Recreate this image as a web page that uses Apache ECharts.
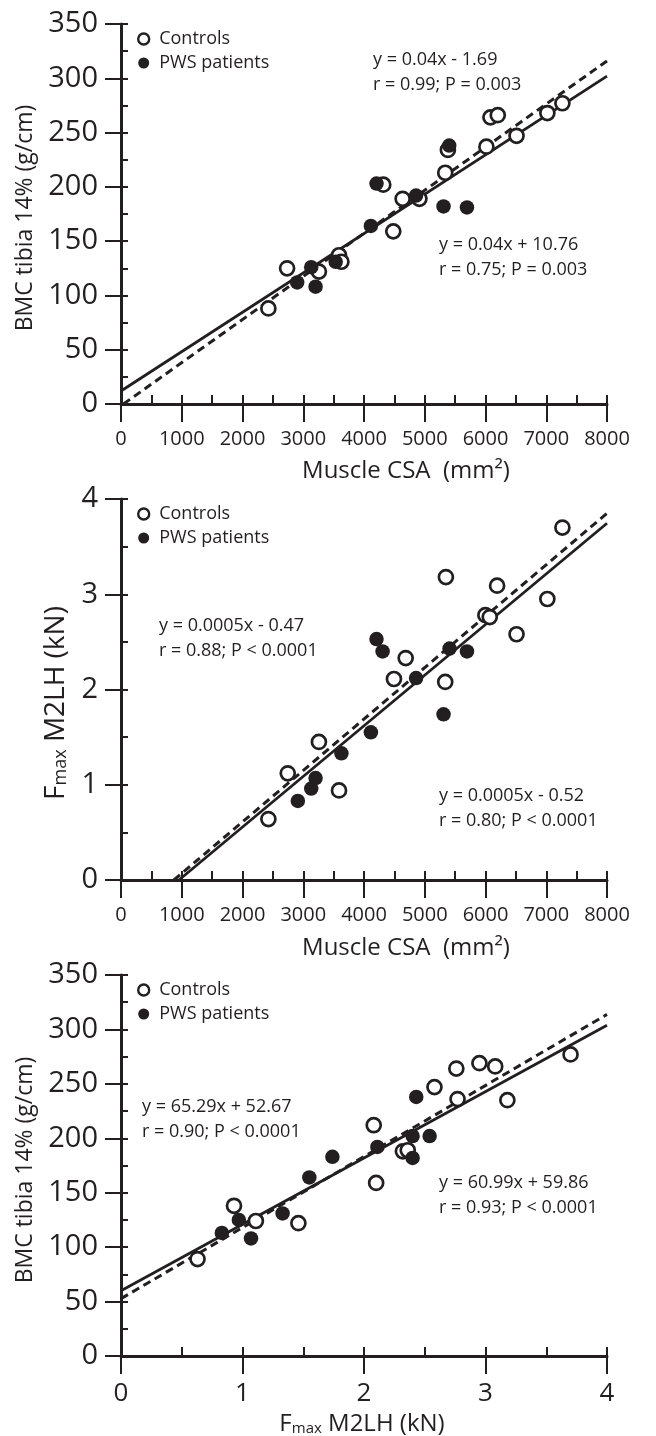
<!DOCTYPE html>
<html><head><meta charset="utf-8">
<script src="https://cdn.jsdelivr.net/npm/echarts@6/dist/echarts.min.js"></script>
<style>html,body{margin:0;padding:0;background:#fff}#c{width:656px;height:1436px}</style>
</head><body><div id="c"></div>
<script>
// ---------- data ----------
// Panel 1: Muscle CSA (mm2) vs BMC tibia 14% (g/cm)
const p1Controls = [[2426,88],[2734,125],[3258,122],[3589,137],[3628,131],[4317,202],[4482,159],[4636,189],[4912,189],[5337,213],[5381,234],[6015,237],[6081,264],[6202,266],[6511,247],[7018,268],[7266,277]];
const p1Patients = [[2900,112],[3131,126],[3203,108],[3534,131],[4113,164],[4206,203],[4857,192],[5309,182],[5695,181],[5403,238]];
const p1SolidFit = [[0,12],[8000,302]];
const p1DashedFit = [[40,0],[8000,316]];
// Panel 2: Muscle CSA (mm2) vs Fmax M2LH (kN)
const p2Controls = [[2426,0.64],[2745,1.12],[3258,1.45],[3589,0.94],[4493,2.11],[4686,2.33],[5348,3.18],[5337,2.08],[5998,2.78],[6070,2.76],[6191,3.09],[6511,2.58],[7018,2.95],[7266,3.70]];
const p2Patients = [[2911,0.83],[3131,0.96],[3203,1.07],[3628,1.33],[4113,1.55],[4206,2.53],[4306,2.40],[4857,2.12],[5408,2.43],[5695,2.40],[5309,1.74]];
const p2SolidFit = [[954,0],[8000,3.745]];
const p2DashedFit = [[870,0],[8000,3.85]];
// Panel 3: Fmax M2LH (kN) vs BMC tibia 14% (g/cm)
const p3Controls = [[0.63,89],[0.93,138],[1.11,124],[1.46,122],[2.08,212],[2.10,159],[2.32,188],[2.36,189],[2.58,247],[2.76,264],[2.77,236],[2.95,269],[3.08,266],[3.18,235],[3.70,277]];
const p3Patients = [[0.83,113],[0.97,125],[1.07,108],[1.33,131],[1.55,164],[1.74,183],[2.11,192],[2.40,202],[2.40,182],[2.43,238],[2.54,202]];
const p3SolidFit = [[0,59.86],[4,303.8]];
const p3DashedFit = [[0,52.67],[4,313.8]];

// axis ranges / tick steps
const csaRange = [0, 8000], csaMajor = 1000, csaMinor = 500;
const bmcRange = [0, 350], bmcMajor = 50, bmcMinor = 25;
const fmaxRange = [0, 4], fmaxMajor = 1, fmaxMinor = 0.5;

// text
const seriesNames = ['Controls', 'PWS patients'];
const p1Notes = ['y = 0.04x - 1.69\nr = 0.99; P = 0.003', 'y = 0.04x + 10.76\nr = 0.75; P = 0.003'];
const p2Notes = ['y = 0.0005x - 0.47\nr = 0.88; P < 0.0001', 'y = 0.0005x - 0.52\nr = 0.80; P < 0.0001'];
const p3Notes = ['y = 65.29x + 52.67\nr = 0.90; P < 0.0001', 'y = 60.99x + 59.86\nr = 0.93; P < 0.0001'];
const csaTitle = 'Muscle CSA  (mm²)';
const bmcTitle = 'BMC tibia 14% (g/cm)';

// ---------- styling ----------
const INK = '#231f20';
const FONT = "'Open Sans', 'Noto Sans', sans-serif";

const grids = [
  {left: 121, top: 24, width: 486, height: 380},
  {left: 121, top: 499, width: 486, height: 381},
  {left: 121, top: 975, width: 486, height: 381}
];

function xPair(g, range, major, minor, lblSize, margin) {
  return [
    {type: 'value', gridIndex: g, min: range[0], max: range[1], interval: major, position: 'bottom',
     axisLine: {show: true, onZero: false, lineStyle: {color: INK, width: 3}},
     axisTick: {show: true, inside: false, length: 18, lineStyle: {color: INK, width: 2}},
     axisLabel: {show: true, color: INK, fontSize: lblSize, fontFamily: FONT, margin: margin,
       showMinLabel: true, showMaxLabel: true, formatter: v => String(v)},
     splitLine: {show: false}},
    {type: 'value', gridIndex: g, min: range[0], max: range[1], interval: minor, position: 'bottom',
     axisLine: {show: false, onZero: false},
     axisTick: {show: true, inside: true, length: 9, lineStyle: {color: INK, width: 2}},
     axisLabel: {show: false}, splitLine: {show: false}}
  ];
}
function yPair(g, range, major, minor) {
  return [
    {type: 'value', gridIndex: g, min: range[0], max: range[1], interval: major, position: 'left',
     axisLine: {show: true, onZero: false, lineStyle: {color: INK, width: 3}},
     axisTick: {show: true, inside: false, length: 16, lineStyle: {color: INK, width: 2}},
     axisLabel: {show: true, color: INK, fontSize: 29, fontFamily: FONT, margin: 23,
       showMinLabel: true, showMaxLabel: true, formatter: v => String(v)},
     splitLine: {show: false}},
    {type: 'value', gridIndex: g, min: range[0], max: range[1], interval: minor, position: 'left',
     axisLine: {show: false, onZero: false},
     axisTick: {show: true, inside: true, length: 7, lineStyle: {color: INK, width: 2}},
     axisLabel: {show: false}, splitLine: {show: false}}
  ];
}

const xAxis = [].concat(
  xPair(0, csaRange, csaMajor, csaMinor, 20, 25),
  xPair(1, csaRange, csaMajor, csaMinor, 20, 25),
  xPair(2, fmaxRange, fmaxMajor, fmaxMinor, 26, 25)
);
const yAxis = [].concat(
  yPair(0, bmcRange, bmcMajor, bmcMinor),
  yPair(1, fmaxRange, fmaxMajor, fmaxMinor),
  yPair(2, bmcRange, bmcMajor, bmcMinor)
);

const panels = [
  {controls: p1Controls, patients: p1Patients, solid: p1SolidFit, dashed: p1DashedFit},
  {controls: p2Controls, patients: p2Patients, solid: p2SolidFit, dashed: p2DashedFit},
  {controls: p3Controls, patients: p3Patients, solid: p3SolidFit, dashed: p3DashedFit}
];
const series = [];
panels.forEach((p, i) => {
  const ax = {xAxisIndex: 2 * i, yAxisIndex: 2 * i};
  series.push(Object.assign({type: 'line', data: p.solid, symbol: 'none', silent: true, z: 2,
    lineStyle: {color: INK, width: 2.8}}, ax));
  series.push(Object.assign({type: 'line', data: p.dashed, symbol: 'none', silent: true, z: 2,
    lineStyle: {color: INK, width: 3, type: [8, 5]}}, ax));
  series.push(Object.assign({type: 'scatter', name: seriesNames[0], data: p.controls, symbol: 'circle', symbolSize: 14, z: 3,
    itemStyle: {color: '#fff', borderColor: INK, borderWidth: 2.7, opacity: 1}}, ax));
  series.push(Object.assign({type: 'scatter', name: seriesNames[1], data: p.patients, symbol: 'circle', symbolSize: 14.5, z: 4,
    itemStyle: {color: INK, borderColor: INK, borderWidth: 0, opacity: 1}}, ax));
});

function legendAt(top) {
  return {orient: 'vertical', left: 132, top: top, itemWidth: 11, itemHeight: 11, itemGap: 6,
    selectedMode: false, textStyle: {color: INK, fontSize: 18, fontFamily: FONT, padding: [0, 0, 0, 5]},
    data: [
      {name: seriesNames[0], icon: 'circle', itemStyle: {color: '#fff', borderColor: INK, borderWidth: 2.4}},
      {name: seriesNames[1], icon: 'circle', itemStyle: {color: INK, borderWidth: 0}}
    ]};
}

function note(text, x, y) {
  return {type: 'text', x: x, y: y, silent: true,
    style: {text: text, fill: INK, fontSize: 18, fontFamily: FONT, lineHeight: 25, align: 'left', verticalAlign: 'top'}};
}
function title(text, x, y, size, rotated) {
  return {type: 'text', x: x, y: y, rotation: rotated ? Math.PI / 2 : 0, silent: true,
    style: {text: text, fill: INK, fontSize: size, fontFamily: FONT, align: 'center', verticalAlign: 'middle'}};
}
function fmaxTitle(x, y, size, small, rotated) {
  return {type: 'text', x: x, y: y, rotation: rotated ? Math.PI / 2 : 0, silent: true,
    style: {text: '{b|F}{s|max}{b| M2LH (kN)}', fill: INK, align: 'center', verticalAlign: 'middle',
      rich: {b: {fontSize: size, fontFamily: FONT, fill: INK, verticalAlign: 'bottom'},
             s: {fontSize: small, fontFamily: FONT, fill: INK, verticalAlign: 'bottom'}}}};
}

const graphic = [
  note(p1Notes[0], 373, 47), note(p1Notes[1], 439, 232),
  note(p2Notes[0], 159, 613), note(p2Notes[1], 439, 783),
  note(p3Notes[0], 142, 1094), note(p3Notes[1], 439, 1170),
  title(csaTitle, 406, 471, 24, false),
  title(csaTitle, 406, 948, 24, false),
  fmaxTitle(362, 1424, 24, 15, false),
  title(bmcTitle, 25, 218, 23, true),
  fmaxTitle(56, 703, 28, 18, true),
  title(bmcTitle, 25, 1170, 23, true)
];

const chart = echarts.init(document.getElementById('c'), null, {renderer: 'canvas'});
chart.setOption({
  backgroundColor: '#fff',
  animation: false,
  grid: grids.map(g => Object.assign({outerBoundsMode: 'none', containLabel: false}, g)),
  xAxis: xAxis,
  yAxis: yAxis,
  legend: [legendAt(25), legendAt(500), legendAt(976)],
  series: series,
  graphic: graphic
});
</script></body></html>
